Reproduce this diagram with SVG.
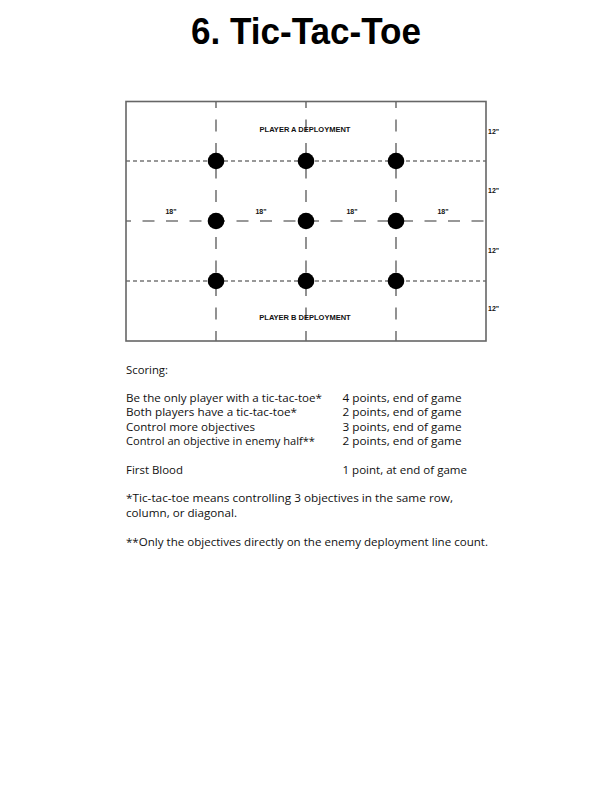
<svg xmlns="http://www.w3.org/2000/svg" width="612" height="792" viewBox="0 0 612 792">
<style>
.title{font-family:"Liberation Sans",Arial,sans-serif;font-weight:bold;font-size:37px;fill:#000}
.body{font-family:"Open Sans","Liberation Sans",Arial,sans-serif;font-size:11px;fill:#111}
.lbl{font-family:"Liberation Sans",Arial,sans-serif;font-weight:bold;font-size:7px;fill:#111}
.dep{font-family:"Liberation Sans",Arial,sans-serif;font-weight:bold;font-size:7.5px;fill:#111}
.vline{stroke:#777;stroke-width:1.6;stroke-dasharray:12 11.5;fill:none}
.hmid{stroke:#777;stroke-width:1.6;stroke-dasharray:12 11.5;stroke-dashoffset:7;fill:none}
.hdot{stroke:#777;stroke-width:1.3;stroke-dasharray:4 3;fill:none}
.obj{fill:#000}
</style>
<rect width="612" height="792" fill="#fff"/>
<text class="title" x="306" y="44" text-anchor="middle" textLength="230" lengthAdjust="spacingAndGlyphs">6. Tic-Tac-Toe</text>

<g id="connectors">
<line class="vline" x1="216" y1="101" x2="216" y2="341" stroke-dashoffset="5"/>
<line class="vline" x1="306" y1="101" x2="306" y2="341" stroke-dashoffset="5"/>
<line class="vline" x1="396" y1="101" x2="396" y2="341" stroke-dashoffset="5"/>
<line class="hdot" x1="126" y1="161" x2="486" y2="161"/>
<line class="hdot" x1="126" y1="281" x2="486" y2="281"/>
<line class="hmid" x1="126" y1="221" x2="486" y2="221"/>
</g>

<g id="table">
<rect x="126" y="101.5" width="360" height="239.5" fill="none" stroke="#666" stroke-width="1.6"/>
</g>

<g id="objectives">
<g id="obj1"><circle class="obj" cx="216" cy="161" r="8.3"/></g>
<g id="obj2"><circle class="obj" cx="306" cy="161" r="8.3"/></g>
<g id="obj3"><circle class="obj" cx="396" cy="161" r="8.3"/></g>
<g id="obj4"><circle class="obj" cx="216" cy="221" r="8.3"/></g>
<g id="obj5"><circle class="obj" cx="306" cy="221" r="8.3"/></g>
<g id="obj6"><circle class="obj" cx="396" cy="221" r="8.3"/></g>
<g id="obj7"><circle class="obj" cx="216" cy="281" r="8.3"/></g>
<g id="obj8"><circle class="obj" cx="306" cy="281" r="8.3"/></g>
<g id="obj9"><circle class="obj" cx="396" cy="281" r="8.3"/></g>
</g>

<g id="labels">
<text class="dep" x="305" y="131.5" text-anchor="middle">PLAYER A DEPLOYMENT</text>
<text class="dep" x="305" y="319.5" text-anchor="middle">PLAYER B DEPLOYMENT</text>
<text class="lbl" x="488" y="134">12"</text>
<text class="lbl" x="488" y="192.5">12"</text>
<text class="lbl" x="488" y="252.5">12"</text>
<text class="lbl" x="488" y="311">12"</text>
<text class="lbl" x="171" y="214" text-anchor="middle">18"</text>
<text class="lbl" x="261" y="214" text-anchor="middle">18"</text>
<text class="lbl" x="352" y="214" text-anchor="middle">18"</text>
<text class="lbl" x="443" y="214" text-anchor="middle">18"</text>
</g>

<g id="scoring">
<text class="body" x="126" y="374" textLength="42" lengthAdjust="spacingAndGlyphs">Scoring:</text>
<text class="body" x="126" y="401.5" textLength="196" lengthAdjust="spacingAndGlyphs">Be the only player with a tic-tac-toe*</text>
<text class="body" x="126" y="416" textLength="171" lengthAdjust="spacingAndGlyphs">Both players have a tic-tac-toe*</text>
<text class="body" x="126" y="430.5" textLength="129" lengthAdjust="spacingAndGlyphs">Control more objectives</text>
<text class="body" x="126" y="445" textLength="189" lengthAdjust="spacingAndGlyphs">Control an objective in enemy half**</text>
<text class="body" x="126" y="473.5" textLength="57" lengthAdjust="spacingAndGlyphs">First Blood</text>
<text class="body" x="342.5" y="401.5" textLength="119" lengthAdjust="spacingAndGlyphs">4 points, end of game</text>
<text class="body" x="342.5" y="416" textLength="119" lengthAdjust="spacingAndGlyphs">2 points, end of game</text>
<text class="body" x="342.5" y="430.5" textLength="119" lengthAdjust="spacingAndGlyphs">3 points, end of game</text>
<text class="body" x="342.5" y="445" textLength="119" lengthAdjust="spacingAndGlyphs">2 points, end of game</text>
<text class="body" x="342.5" y="473.5" textLength="124.5" lengthAdjust="spacingAndGlyphs">1 point, at end of game</text>
<text class="body" x="126" y="502" textLength="327" lengthAdjust="spacingAndGlyphs">*Tic-tac-toe means controlling 3 objectives in the same row,</text>
<text class="body" x="126" y="517" textLength="111" lengthAdjust="spacingAndGlyphs">column, or diagonal.</text>
<text class="body" x="126" y="546" textLength="362" lengthAdjust="spacingAndGlyphs">**Only the objectives directly on the enemy deployment line count.</text>
</g>
</svg>
